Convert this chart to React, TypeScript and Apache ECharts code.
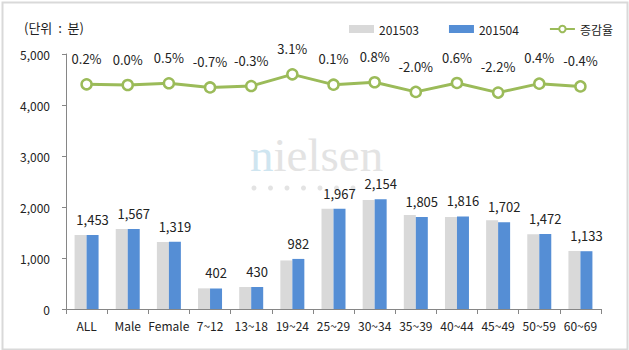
import React, { useEffect, useRef } from "react";
import * as echarts from "echarts";

const categories = ["ALL", "Male", "Female", "7~12", "13~18", "19~24", "25~29", "30~34", "35~39", "40~44", "45~49", "50~59", "60~69"];
const values201503 = [1450, 1567, 1312, 405, 431, 952, 1965, 2137, 1842, 1805, 1740, 1466, 1138];
const values201504 = [1453, 1567, 1319, 402, 430, 982, 1967, 2154, 1805, 1816, 1702, 1472, 1133];
const changeRate = [0.2, 0.0, 0.5, -0.7, -0.3, 3.1, 0.1, 0.8, -2.0, 0.6, -2.2, 0.4, -0.4];
const yTicks = [0, 1000, 2000, 3000, 4000, 5000];

const FONT = "'Noto Sans CJK KR', 'Noto Sans', sans-serif";

export default function App() {
  const ref = useRef<HTMLDivElement>(null);
  useEffect(() => {
    if (!ref.current) return;
    const chart = echarts.init(ref.current, null, { renderer: "svg" });
    const fmt = (v: number) => v.toLocaleString("en-US");
    chart.setOption({
      animation: false,
      backgroundColor: "#ffffff",
      textStyle: { fontFamily: FONT },
      grid: { left: 66, right: 28, top: 54, bottom: 41, containLabel: false },
      legend: {
        left: 344,
        top: 18,
        itemGap: 30,
        itemWidth: 25,
        itemHeight: 8,
        textStyle: { fontSize: 12, color: "#222", fontFamily: FONT },
        data: [
          { name: "201503", icon: "rect" },
          { name: "201504", icon: "rect" },
          { name: "증감율" },
        ],
      },
      graphic: [
        {
          type: "rect",
          left: 0,
          top: 0,
          shape: { x: 1, y: 1, width: 625, height: 347 },
          style: { fill: "none", stroke: "#d9d9d9", lineWidth: 2 },
          silent: true,
        },
        {
          type: "text",
          left: 24,
          top: 21,
          style: { text: "(단위  :  분)", fontSize: 13, fill: "#222", fontFamily: FONT },
        },
        {
          type: "text",
          left: 250,
          top: 131,
          z: -1,
          style: {
            text: "{a|n}{b|ielsen}",
            rich: {
              a: { fontSize: 47, fontFamily: "'Liberation Serif', serif", fill: "#cfe5f0" },
              b: { fontSize: 47, fontFamily: "'Liberation Serif', serif", fill: "#e3e3e3" },
            },
          },
        },
        ...[0, 1, 2, 3, 4, 5, 6].map((i) => ({
          type: "circle",
          z: -1,
          shape: { cx: 254 + i * 16.5, cy: 188, r: 2.5 },
          style: { fill: "#e3e3e3" },
        })),
      ],
      xAxis: {
        type: "category",
        data: categories,
        boundaryGap: true,
        axisLine: { lineStyle: { color: "#868686", width: 1 } },
        axisTick: { show: true, length: 5, alignWithLabel: false, lineStyle: { color: "#868686" } },
        axisLabel: { fontSize: 12, color: "#222", margin: 10, interval: 0, fontFamily: FONT },
      },
      yAxis: [
        {
          type: "value",
          min: 0,
          max: 5000,
          interval: 1000,
          axisLine: { show: true, lineStyle: { color: "#868686" } },
          axisTick: { show: true, length: 4, lineStyle: { color: "#868686" } },
          splitLine: { show: false },
          axisLabel: {
            fontSize: 12,
            color: "#222",
            margin: 16,
            fontFamily: FONT,
            formatter: (v: number) => (yTicks.includes(v) ? fmt(v) : ""),
          },
        },
        {
          type: "value",
          min: -65,
          max: 9,
          show: false,
          splitLine: { show: false },
        },
      ],
      series: [
        {
          name: "201503",
          type: "bar",
          data: values201503,
          barWidth: 12,
          barGap: "0%",
          itemStyle: { color: "#d9d9d9" },
        },
        {
          name: "201504",
          type: "bar",
          data: values201504,
          barWidth: 12,
          barGap: "0%",
          itemStyle: { color: "#558ed5" },
          label: {
            show: true,
            position: "top",
            distance: 9,
            fontSize: 13,
            color: "#222",
            fontFamily: FONT,
            formatter: (p: any) => fmt(p.value),
          },
        },
        {
          name: "증감율",
          type: "line",
          yAxisIndex: 1,
          data: changeRate,
          symbol: "circle",
          symbolSize: 10,
          z: 5,
          lineStyle: { color: "#9bbb59", width: 3 },
          itemStyle: { color: "#ffffff", borderColor: "#9bbb59", borderWidth: 2.5 },
          label: {
            show: true,
            position: "top",
            distance: 13,
            fontSize: 13,
            color: "#222",
            fontFamily: FONT,
            formatter: (p: any) => p.value.toFixed(1) + "%",
          },
        },
      ],
    });
    return () => chart.dispose();
  }, []);
  return (
    <div
      ref={ref}
      style={{ position: "fixed", left: 0, top: 0, width: 629, height: 350 }}
    />
  );
}
